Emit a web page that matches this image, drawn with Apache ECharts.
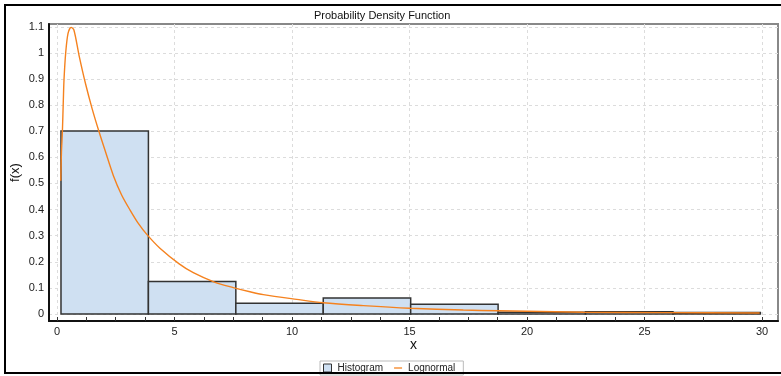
<!DOCTYPE html>
<html>
<head>
<meta charset="utf-8">
<script src="https://cdn.jsdelivr.net/npm/echarts@6/dist/echarts.min.js"></script>
<style>html,body{margin:0;padding:0;background:#fff;}#c{width:781px;height:376px;}</style>
</head>
<body>
<div id="c"></div>
<script>
// ---- data ----
var binEdges = [0.17, 3.89, 7.61, 11.33, 15.05, 18.77, 22.49, 26.21, 29.93];
var binHeights = [0.701, 0.124, 0.041, 0.061, 0.037, 0.007, 0.008, 0.006];
var curveX = [0.16, 0.19, 0.23, 0.27, 0.30, 0.37, 0.47, 0.60, 0.72, 0.94, 1.22, 1.50, 1.79, 2.04, 2.40, 2.75, 3.11, 3.46, 3.84, 4.38, 5.20, 5.80, 6.70, 7.50, 8.21, 8.78, 10.2, 11.33, 13.03, 15.02, 17.29, 18.80, 22.4, 25.9, 29.9];
var curveY = [0.51, 0.62, 0.70, 0.82, 0.90, 1.00, 1.075, 1.098, 1.088, 0.99, 0.88, 0.785, 0.698, 0.628, 0.530, 0.456, 0.398, 0.347, 0.303, 0.252, 0.192, 0.158, 0.122, 0.101, 0.085, 0.074, 0.056, 0.043, 0.032, 0.022, 0.015, 0.012, 0.0068, 0.0052, 0.0035];
var xTickLabels = [0, 5, 10, 15, 20, 25, 30];
var xMinorTicks = [0, 1.25, 2.5, 3.75, 5, 6.25, 7.5, 8.75, 10, 11.25, 12.5, 13.75, 15, 16.25, 17.5, 18.75, 20, 21.25, 22.5, 23.75, 25, 26.25, 27.5, 28.75, 30];
var yTickLabels = [0, 0.1, 0.2, 0.3, 0.4, 0.5, 0.6, 0.7, 0.8, 0.9, 1, 1.1];

var histData = [];
for (var i = 0; i < binHeights.length; i++) histData.push([binEdges[i], binEdges[i + 1], binHeights[i]]);
var curveData = curveX.map(function (x, i) { return [x, curveY[i]]; });

var FONT = '"Liberation Sans", Arial, sans-serif';
var chart = echarts.init(document.getElementById('c'), null, { renderer: 'canvas' });
chart.setOption({
  animation: false,
  backgroundColor: '#fff',
  textStyle: { fontFamily: FONT },
  title: {
    text: 'Probability Density Function',
    left: 314, top: 10, padding: 0,
    textStyle: { fontSize: 11, fontWeight: 'normal', color: '#111', fontFamily: FONT }
  },
  graphic: [{
    type: 'rect', silent: true, z: 100,
    shape: { x: 5, y: 5, width: 790, height: 368 },
    style: { fill: 'none', stroke: '#000', lineWidth: 2 }
  }],
  legend: {
    left: 320, top: 361, padding: [2, 8, 2, 3],
    itemWidth: 8, itemHeight: 8, itemGap: 11,
    borderColor: '#bbb', borderWidth: 1,
    textStyle: { fontSize: 10, color: '#222', fontFamily: FONT, padding: [0, 0, 0, 1] },
    data: [
      { name: 'Histogram', icon: 'rect', itemStyle: { color: '#cfe0f2', borderColor: '#333', borderWidth: 1 } },
      { name: 'Lognormal', icon: 'path://M0,0h10v1.6h-10z', itemStyle: { color: '#f5821f' } }
    ]
  },
  grid: { left: 49, top: 24, right: 3, bottom: 55, show: true, borderColor: '#888', borderWidth: 2, outerBoundsMode: 'none', containLabel: false },
  xAxis: [{
    type: 'value', min: -0.34, max: 30.68,
    name: 'x', nameLocation: 'middle', nameGap: 17, nameMoveOverlap: false,
    nameTextStyle: { fontSize: 14, color: '#111', fontFamily: FONT },
    axisLine: { show: true, onZero: false, lineStyle: { color: '#111', width: 2 } },
    axisTick: { show: true, inside: true, length: 4, customValues: xMinorTicks, lineStyle: { color: '#333', width: 1 } },
    axisLabel: { customValues: xTickLabels, fontSize: 11, color: '#222', margin: 5, fontFamily: FONT },
    splitLine: { show: false },
    z: 10
  }, {
    type: 'value', min: -0.34, max: 30.68, position: 'bottom',
    minInterval: 5, maxInterval: 5,
    axisLine: { show: false }, axisLabel: { show: false },
    axisTick: { show: false, customValues: xTickLabels },
    splitLine: { show: true, lineStyle: { color: '#dcdcdc', type: [3, 3], width: 1 } }
  }],
  yAxis: {
    type: 'value', min: -0.027, max: 1.111,
    minInterval: 0.1, maxInterval: 0.1,
    name: 'f(x)', nameLocation: 'middle', nameGap: 27, nameRotate: 90, nameMoveOverlap: false,
    nameTextStyle: { fontSize: 13, color: '#111', fontFamily: FONT },
    axisLine: { show: true, onZero: false, lineStyle: { color: '#111', width: 2 } },
    axisTick: { show: false, customValues: yTickLabels },
    axisLabel: {
      customValues: yTickLabels, fontSize: 11, color: '#222', margin: 5, fontFamily: FONT,
      formatter: function (v) { return String(Math.round(v * 10) / 10); }
    },
    splitLine: { show: true, lineStyle: { color: '#dcdcdc', type: [3, 3], width: 1 } }
  },
  series: [{
    name: 'Histogram', type: 'custom', xAxisIndex: 0,
    encode: { x: [0, 1], y: 2 },
    data: histData,
    itemStyle: { color: '#cfe0f2', borderColor: '#333', borderWidth: 1 },
    renderItem: function (params, api) {
      var p0 = api.coord([api.value(0), api.value(2)]);
      var p1 = api.coord([api.value(1), 0]);
      return {
        type: 'rect',
        shape: { x: p0[0], y: p0[1], width: p1[0] - p0[0], height: p1[1] - p0[1] },
        style: { fill: '#cfe0f2', stroke: '#333', lineWidth: 1.5 }
      };
    },
    z: 2
  }, {
    name: 'Lognormal', type: 'line', xAxisIndex: 0,
    data: curveData, showSymbol: false, symbol: 'none',
    smooth: 0.3,
    lineStyle: { color: '#f5821f', width: 1.4 },
    itemStyle: { color: '#f5821f' },
    z: 3
  }]
});
</script>
</body>
</html>
